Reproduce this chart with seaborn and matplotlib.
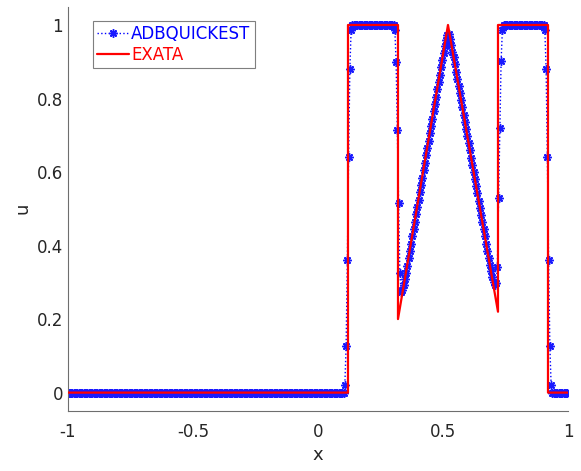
import numpy as np
import pandas as pd
import matplotlib
matplotlib.use("Agg")
import matplotlib.pyplot as plt
import seaborn as sns

# ---- data ----
# numerical solution (ADBQUICKEST), 400 cell centres on [-1, 1]
zeros_left = [0.0] * 221
jump_up_1 = [0.022, 0.126, 0.36, 0.64, 0.88, 0.985]
ones_1 = [1.0] * 34
drop_1 = [0.986, 0.90, 0.713, 0.515, 0.325]
rise_tri = [0.275, 0.280, 0.292, 0.308, 0.326, 0.345, 0.365, 0.385, 0.405, 0.425,
            0.445, 0.465, 0.485, 0.505, 0.525, 0.545, 0.565, 0.585, 0.605, 0.625,
            0.645, 0.665, 0.685, 0.705, 0.725, 0.745, 0.765, 0.785, 0.805, 0.825,
            0.845, 0.865, 0.885, 0.905, 0.925, 0.943, 0.960, 0.972]
fall_tri = [0.975, 0.962, 0.945, 0.927, 0.912, 0.893, 0.873, 0.854, 0.834, 0.815,
            0.795, 0.776, 0.756, 0.737, 0.717, 0.698, 0.678, 0.659, 0.639, 0.620,
            0.600, 0.581, 0.561, 0.542, 0.522, 0.503, 0.483, 0.464, 0.444, 0.425,
            0.405, 0.386, 0.366, 0.347, 0.330, 0.314, 0.302, 0.293, 0.298]
jump_up_2 = [0.343, 0.529, 0.719, 0.902, 0.986]
ones_2 = [1.0] * 33
drop_2 = [0.985, 0.88, 0.64, 0.36, 0.126, 0.022]
zeros_right = [0.0] * 13

u_num = (zeros_left + jump_up_1 + ones_1 + drop_1 + rise_tri + fall_tri
         + jump_up_2 + ones_2 + drop_2 + zeros_right)
x_num = np.linspace(-0.9975, 0.9975, len(u_num))

# exact solution (EXATA), breakpoints
x_exact = [-1.0, 0.12, 0.12, 0.32, 0.32, 0.52, 0.72, 0.72, 0.92, 0.92, 1.0]
u_exact = [0.0, 0.0, 1.0, 1.0, 0.2, 1.0, 0.22, 1.0, 1.0, 0.0, 0.0]

x_ticks = [-1, -0.5, 0, 0.5, 1]
x_tick_labels = ["-1", "-0.5", "0", "0.5", "1"]
y_ticks = [0, 0.2, 0.4, 0.6, 0.8, 1]
y_tick_labels = ["0", "0.2", "0.4", "0.6", "0.8", "1"]

df_num = pd.DataFrame({"x": x_num, "u": u_num})
df_exact = pd.DataFrame({"x": x_exact, "u": u_exact})

# ---- styling ----
sns.set_style("white")
plt.rcParams["font.family"] = ["DejaVu Sans"]

fig = plt.figure(figsize=(5.81, 4.71), dpi=100)
ax = fig.add_axes([0.117, 0.1274, 0.8606, 0.8586])

sns.lineplot(data=df_num, x="x", y="u", ax=ax, estimator=None, sort=False,
             color="#0000ff", linestyle=":", linewidth=1.0, marker=(8, 2, 0),
             markersize=6, markeredgewidth=1.1, markeredgecolor="#1a1aff",
             markerfacecolor="#1a1aff",
             label="ADBQUICKEST", zorder=2)
sns.lineplot(data=df_exact, x="x", y="u", ax=ax, estimator=None, sort=False,
             color="#ff0000", linewidth=1.6, label="EXATA", zorder=3)

ax.set_xlim(-1, 1)
ax.set_ylim(-0.05, 1.05)
ax.set_xticks(x_ticks)
ax.set_xticklabels(x_tick_labels)
ax.set_yticks(y_ticks)
ax.set_yticklabels(y_tick_labels)

for s in ["top", "right"]:
    ax.spines[s].set_visible(False)
for s in ["left", "bottom"]:
    ax.spines[s].set_color("#6e6e6e")
    ax.spines[s].set_linewidth(0.8)

ax.tick_params(axis="both", direction="in", length=5, width=0.8,
               colors="#6e6e6e", labelcolor="#262626", labelsize=12)
ax.tick_params(axis="x", pad=9)
ax.set_xlabel("x", fontsize=13, color="#262626", labelpad=3)
ax.set_ylabel("u", fontsize=13, color="#262626", labelpad=4)

leg = ax.legend(loc="upper left", bbox_to_anchor=(0.05, 0.965), borderaxespad=0,
                fontsize=12, frameon=True, fancybox=False, framealpha=1,
                edgecolor="#7f7f7f", handlelength=1.9, handletextpad=0.15,
                labelspacing=0.2, borderpad=0.25)
leg.get_frame().set_linewidth(0.8)
for txt, col in zip(leg.get_texts(), ["#0000ff", "#ff0000"]):
    txt.set_color(col)

fig.savefig("out.png", dpi=100)
